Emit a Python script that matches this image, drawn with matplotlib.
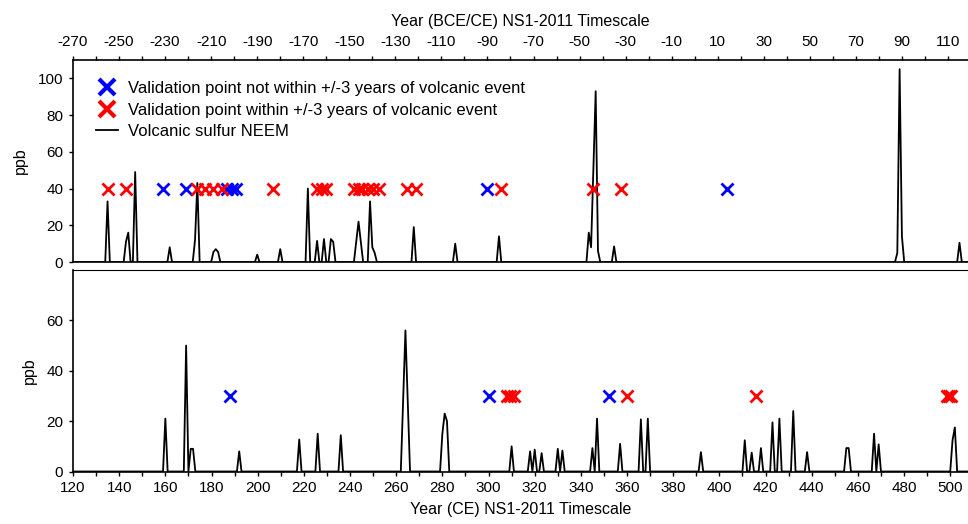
import numpy as np
from matplotlib import pyplot as plt
from matplotlib.legend_handler import HandlerLine2D

plt.rcParams['font.family'] = ['Liberation Sans', 'DejaVu Sans']
plt.rcParams['axes.unicode_minus'] = False

BLUE = '#0000ff'
RED = '#ff0000'

# volcanic sulfur, NEEM (ppb), annual values; years not listed are zero
top_peak_years = [-255, -247, -246, -243, -228, -217, -216, -209, -208, -207,
                  -190, -180, -168, -164, -161, -158, -157, -147, -146, -145,
                  -141, -140, -139, -122, -104, -85, -46, -45, -44, -43, -42,
                  -35, 88, 89, 90, 115]
top_peak_ppb = [33, 11, 16, 49, 8, 12, 43, 5.5, 7, 5.5,
                4, 7, 40, 11.5, 12.5, 12.5, 11, 11, 22, 11,
                33, 8, 5, 19, 10, 14, 16, 8, 50, 93, 6,
                8.5, 5, 105, 14, 10.5]

bottom_peak_years = [160, 169, 171, 172, 192, 218, 226, 236, 263, 264, 265,
                     280, 281, 282, 310, 318, 320, 323, 330, 332, 345, 347,
                     357, 366, 369, 392, 411, 414, 418, 423, 426, 432, 438,
                     455, 456, 467, 469, 501, 502]
bottom_peak_ppb = [21, 50, 9, 9, 8, 12.7, 15, 14.4, 28, 56, 28,
                   15, 23, 20, 10, 8, 8.7, 7.3, 9, 8.3, 9.3, 21,
                   11, 20.7, 21, 7.7, 12.4, 7.5, 9.3, 19.5, 21, 24, 7.7,
                   9.3, 9.3, 15, 10.8, 12.4, 17.5]

# validation points (years)
top_blue_years = [-231, -221, -203, -201, -199, -90, 14]
top_red_years = [-255, -247, -216, -212.5, -209, -205.5, -183, -164, -162,
                 -160, -148, -146, -144.5, -142, -139.5, -137, -125, -121,
                 -84, -44, -32]
bottom_blue_years = [188, 300, 352]
bottom_red_years = [308, 309.5, 311, 360, 416, 498.5, 499.5, 500.5]
top_marker_ppb = 40
bottom_marker_ppb = 30

top_span = (-270, 118.7)
bottom_span = (120, 507.7)


class MarkerRight(HandlerLine2D):
    # put the legend marker near the right end of the handle
    def get_xdata(self, legend, xdescent, ydescent, width, height, fontsize):
        xdata = np.array([-xdescent, -xdescent + width])
        return xdata, np.array([-xdescent + 0.95 * width])


def annual(first, last, years, values):
    x = np.arange(first, last + 1)
    y = np.zeros(len(x))
    y[np.searchsorted(x, years)] = values
    return x, y


def style(ax):
    ax.spines['right'].set_visible(False)
    for s in ax.spines.values():
        s.set_linewidth(1.2)
    ax.tick_params(which='both', direction='out', length=3, width=1,
                   labelsize=11, pad=4)


fig = plt.figure(figsize=(9.68, 5.24), dpi=100)
ax1 = fig.add_axes([73 / 968, 1 - 262 / 524, 895 / 968, 202 / 524])
ax2 = fig.add_axes([73 / 968, 52.5 / 524, 895 / 968, 201.5 / 524])

# top panel
x, y = annual(-271, 119, top_peak_years, top_peak_ppb)
line_h, = ax1.plot(x, y, color='black', lw=1.3, zorder=2)
blue_h, = ax1.plot(top_blue_years, [top_marker_ppb] * len(top_blue_years),
                   'x', color=BLUE, ms=9, mew=2, zorder=3)
red_h, = ax1.plot(top_red_years, [top_marker_ppb] * len(top_red_years),
                  'x', color=RED, ms=9, mew=2, zorder=3)
ax1.set_xlim(*top_span)
ax1.set_ylim(0, 110)
ax1.set_xticks(np.arange(-270, 119, 20))
ax1.set_xticks(np.arange(-270, 119, 10), minor=True)
ax1.set_yticks(np.arange(0, 101, 20))
ax1.xaxis.tick_top()
ax1.xaxis.set_label_position('top')
style(ax1)
ax1.tick_params(axis='x', which='both', top=True, bottom=False, pad=5)
ax1.set_xlabel('Year (BCE/CE) NS1-2011 Timescale', fontsize=11.5, labelpad=6.5)
ax1.set_ylabel('ppb', fontsize=11.5, labelpad=7)

leg = ax1.legend([blue_h, red_h, line_h],
                 ['Validation point not within +/-3 years of volcanic event',
                  'Validation point within +/-3 years of volcanic event',
                  'Volcanic sulfur NEEM'],
                 loc='upper left', bbox_to_anchor=(0.009, 0.97), frameon=False,
                 fontsize=12, handlelength=1.32, handletextpad=0.6,
                 labelspacing=0.39,
                 handler_map={blue_h: MarkerRight(), red_h: MarkerRight()})
for h in leg.legend_handles[:2]:
    h.set_markersize(11)
    h.set_markeredgewidth(3)

# bottom panel
x, y = annual(119, 509, bottom_peak_years, bottom_peak_ppb)
ax2.plot(x, y, color='black', lw=1.3, zorder=2)
ax2.plot(bottom_blue_years, [bottom_marker_ppb] * len(bottom_blue_years),
         'x', color=BLUE, ms=9, mew=2, zorder=3)
ax2.plot(bottom_red_years, [bottom_marker_ppb] * len(bottom_red_years),
         'x', color=RED, ms=9, mew=2, zorder=3)
ax2.set_xlim(*bottom_span)
ax2.set_ylim(0, 80)
ax2.set_xticks(np.arange(120, 508, 20))
ax2.set_xticks(np.arange(120, 508, 10), minor=True)
ax2.set_yticks(np.arange(0, 61, 20))
style(ax2)
ax2.spines['top'].set_linewidth(0.8)
ax2.set_xlabel('Year (CE) NS1-2011 Timescale', fontsize=11.5, labelpad=5)
ax2.set_ylabel('ppb', fontsize=11.5, labelpad=7)

fig.savefig('out.png', dpi=100)
